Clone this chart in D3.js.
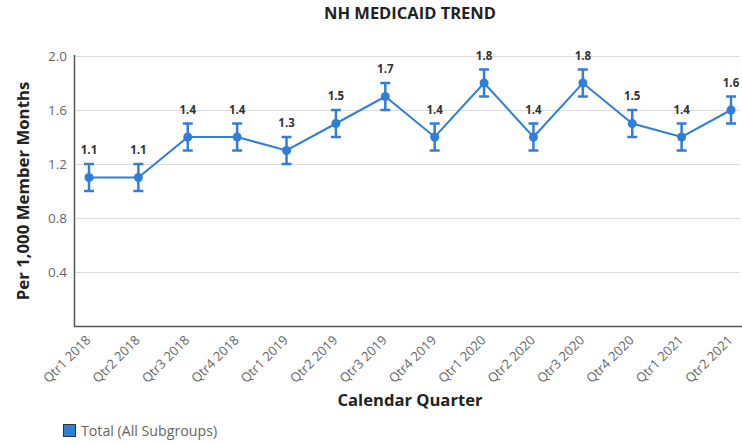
<!DOCTYPE html>
<html>
<head>
<meta charset="utf-8">
<script src="https://cdn.jsdelivr.net/npm/d3@7"></script>
<style>
  body { margin: 0; background: #fff; font-family: "Open Sans", sans-serif; }
  #chart svg { display: block; }
</style>
</head>
<body>
<div id="chart"></div>
<script>
// chart data
var quarters = ["Qtr1 2018", "Qtr2 2018", "Qtr3 2018", "Qtr4 2018", "Qtr1 2019", "Qtr2 2019", "Qtr3 2019",
  "Qtr4 2019", "Qtr1 2020", "Qtr2 2020", "Qtr3 2020", "Qtr4 2020", "Qtr1 2021", "Qtr2 2021"];
var rates = [1.1, 1.1, 1.4, 1.4, 1.3, 1.5, 1.7, 1.4, 1.8, 1.4, 1.8, 1.5, 1.4, 1.6];
var lowerBounds = [1.0, 1.0, 1.3, 1.3, 1.2, 1.4, 1.6, 1.3, 1.7, 1.3, 1.7, 1.4, 1.3, 1.5];
var upperBounds = [1.2, 1.2, 1.5, 1.5, 1.4, 1.6, 1.8, 1.5, 1.9, 1.5, 1.9, 1.6, 1.5, 1.7];
var yTicks = [0.4, 0.8, 1.2, 1.6, 2.0];

var width = 742, height = 444;
var margin = { top: 56, right: 0, bottom: 118, left: 74 };
var blue = "#2f7ed8";

var svg = d3.select("#chart").append("svg")
  .attr("width", width)
  .attr("height", height);

var x = d3.scalePoint()
  .domain(quarters)
  .range([89, 731]);

var y = d3.scaleLinear()
  .domain([0, 2.0])
  .range([height - margin.bottom, margin.top]);

// gridlines
svg.append("g")
  .selectAll("line")
  .data(yTicks)
  .enter()
  .append("line")
  .attr("x1", margin.left)
  .attr("x2", width - 2)
  .attr("y1", d => y(d) + 0.5)
  .attr("y2", d => y(d) + 0.5)
  .style("stroke", "#dcdcdc")
  .style("stroke-width", 1);

// y axis
var yAxis = d3.axisLeft(y).tickValues(yTicks).tickSize(0).tickPadding(7).tickFormat(d3.format(".1f"));
var gY = svg.append("g")
  .attr("transform", "translate(" + margin.left + ",0)")
  .call(yAxis);
gY.select(".domain").remove();
gY.selectAll("text")
  .style("font-family", "Open Sans")
  .style("font-size", "13.5px")
  .style("fill", "#666");

// x axis
var xAxis = d3.axisBottom(x).tickSize(0).tickPadding(0);
var gX = svg.append("g")
  .attr("transform", "translate(0," + y(0) + ")")
  .call(xAxis);
gX.select(".domain").remove();
gX.selectAll("text")
  .attr("text-anchor", "end")
  .attr("dy", "0")
  .attr("y", 0)
  .attr("transform", "translate(2,15) rotate(-45)")
  .style("font-family", "Open Sans")
  .style("font-size", "13px")
  .style("fill", "#666");

// axis lines
svg.append("line")
  .attr("x1", margin.left + 0.5).attr("x2", margin.left + 0.5)
  .attr("y1", margin.top - 1).attr("y2", y(0) + 1)
  .style("stroke", "#555").style("stroke-width", 1.5);
svg.append("line")
  .attr("x1", margin.left).attr("x2", width)
  .attr("y1", y(0) + 0.5).attr("y2", y(0) + 0.5)
  .style("stroke", "#555").style("stroke-width", 1.5);

// line
var line = d3.line()
  .x((d, i) => x(quarters[i]))
  .y(d => y(d));

svg.append("path")
  .datum(rates)
  .attr("d", line)
  .style("fill", "none")
  .style("stroke", blue)
  .style("stroke-width", 2);

// error bars
var err = svg.append("g").selectAll("g")
  .data(rates)
  .enter()
  .append("g")
  .style("stroke", blue)
  .style("stroke-width", 2.5);
err.append("line")
  .attr("x1", (d, i) => x(quarters[i])).attr("x2", (d, i) => x(quarters[i]))
  .attr("y1", (d, i) => y(lowerBounds[i])).attr("y2", (d, i) => y(upperBounds[i]));
err.append("line")
  .attr("x1", (d, i) => x(quarters[i]) - 5).attr("x2", (d, i) => x(quarters[i]) + 5)
  .attr("y1", (d, i) => y(upperBounds[i])).attr("y2", (d, i) => y(upperBounds[i]));
err.append("line")
  .attr("x1", (d, i) => x(quarters[i]) - 5).attr("x2", (d, i) => x(quarters[i]) + 5)
  .attr("y1", (d, i) => y(lowerBounds[i])).attr("y2", (d, i) => y(lowerBounds[i]));

// points
svg.append("g").selectAll("circle")
  .data(rates)
  .enter()
  .append("circle")
  .attr("cx", (d, i) => x(quarters[i]))
  .attr("cy", d => y(d))
  .attr("r", 4.5)
  .style("fill", blue);

// value labels
svg.append("g").selectAll("text")
  .data(rates)
  .enter()
  .append("text")
  .attr("x", (d, i) => x(quarters[i]))
  .attr("y", (d, i) => y(upperBounds[i]) - 10)
  .attr("text-anchor", "middle")
  .style("font-family", "Open Sans")
  .style("font-size", "11.5px")
  .style("font-weight", "bold")
  .style("fill", "#333")
  .text(d => d3.format(".1f")(d));

// title
svg.append("text")
  .attr("x", 410)
  .attr("y", 19)
  .attr("text-anchor", "middle")
  .style("font-family", "Open Sans")
  .style("font-size", "16.5px")
  .style("font-weight", "bold")
  .style("fill", "#222")
  .text("NH MEDICAID TREND");

// axis titles
svg.append("text")
  .attr("transform", "translate(29," + 191 + ") rotate(-90)")
  .attr("text-anchor", "middle")
  .style("font-family", "Open Sans")
  .style("font-size", "16.8px")
  .style("font-weight", "bold")
  .style("fill", "#222")
  .text("Per 1,000 Member Months");

svg.append("text")
  .attr("x", 410)
  .attr("y", 406)
  .attr("text-anchor", "middle")
  .style("font-family", "Open Sans")
  .style("font-size", "16.6px")
  .style("font-weight", "bold")
  .style("fill", "#222")
  .text("Calendar Quarter");

// legend
svg.append("rect")
  .attr("x", 63.5).attr("y", 424.5)
  .attr("width", 12).attr("height", 12)
  .style("fill", blue)
  .style("stroke", "#333")
  .style("stroke-width", 1);
svg.append("text")
  .attr("x", 81)
  .attr("y", 436)
  .style("font-family", "Open Sans")
  .style("font-size", "14.2px")
  .style("fill", "#666")
  .text("Total (All Subgroups)");
</script>
</body>
</html>
